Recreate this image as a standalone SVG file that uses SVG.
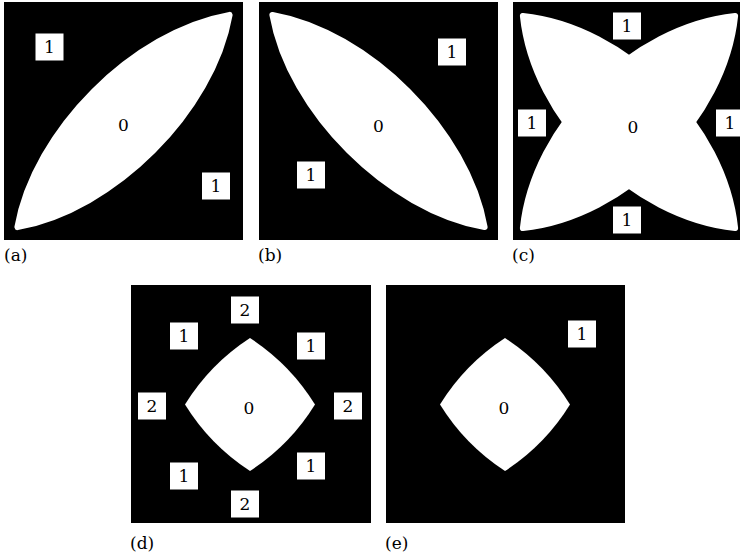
<svg xmlns="http://www.w3.org/2000/svg" width="740" height="558" viewBox="0 0 740 558">
<style>
.bg{fill:#000}
.lens{fill:#fff;stroke:#fff;stroke-width:6;stroke-linejoin:round}
.dia{fill:#fff}
.box{fill:#fff}
.t{font-family:"DejaVu Serif","Liberation Serif",serif;font-size:17px;fill:#000;text-anchor:middle}
.cap{font-family:"DejaVu Serif","Liberation Serif",serif;font-size:17px;fill:#000}
</style>
<rect width="740" height="558" fill="#fff"/>
<g id="panel-a">
<rect class="bg" x="4" y="2" width="239" height="238"/>
<path class="lens" d="M17.4,227.1 C34.4,130.9 133.4,31.9 229.6,14.9 C212.6,111.1 113.6,210.1 17.4,227.1 Z"/>
<text class="t" x="123.5" y="131">0</text>
<rect class="box" x="35.5" y="33.5" width="28" height="27"/><text class="t" x="49.5" y="53">1</text>
<rect class="box" x="202" y="172.5" width="28" height="27"/><text class="t" x="216" y="192">1</text>
<text class="cap" x="4" y="261">(a)</text>
</g>
<g id="panel-b">
<rect class="bg" x="259" y="2" width="239" height="238"/>
<path class="lens" d="M272.4,14.9 C368.6,31.9 467.6,130.9 484.6,227.1 C388.4,210.1 289.4,111.1 272.4,14.9 Z"/>
<text class="t" x="378.5" y="132">0</text>
<rect class="box" x="438" y="38.5" width="28" height="27"/><text class="t" x="452" y="58">1</text>
<rect class="box" x="297" y="161.5" width="28" height="27"/><text class="t" x="311" y="181">1</text>
<text class="cap" x="258" y="261">(b)</text>
</g>
<g id="panel-c">
<rect class="bg" x="513" y="2" width="240" height="238"/>
<path class="lens" d="M522.9,228.1 C533.5,125.5 632.5,26.5 735.1,15.9 C724.5,118.5 625.5,217.5 522.9,228.1 Z"/>
<path class="lens" d="M522.9,15.9 C625.5,26.5 724.5,125.5 735.1,228.1 C632.5,217.5 533.5,118.5 522.9,15.9 Z"/>
<text class="t" x="633" y="133">0</text>
<rect class="box" x="613" y="12.5" width="28" height="27"/><text class="t" x="627" y="32">1</text>
<rect class="box" x="518" y="109.5" width="28" height="27"/><text class="t" x="532" y="129">1</text>
<rect class="box" x="716" y="109.5" width="28" height="27"/><text class="t" x="730" y="129">1</text>
<rect class="box" x="613" y="206.5" width="28" height="27"/><text class="t" x="627" y="226">1</text>
<text class="cap" x="512" y="261">(c)</text>
</g>
<g id="panel-d">
<rect class="bg" x="131" y="285" width="240" height="238"/>
<path class="dia" d="M250,338 Q290,364 315,404.5 Q290,445 250,471 Q210,445 185,404.5 Q210,364 250,338 Z"/>
<text class="t" x="249" y="414">0</text>
<rect class="box" x="231" y="296.5" width="28" height="27"/><text class="t" x="245" y="316">2</text>
<rect class="box" x="170" y="322.5" width="28" height="27"/><text class="t" x="184" y="342">1</text>
<rect class="box" x="297" y="332.5" width="28" height="27"/><text class="t" x="311" y="352">1</text>
<rect class="box" x="138" y="392.5" width="28" height="27"/><text class="t" x="152" y="412">2</text>
<rect class="box" x="334" y="392.5" width="28" height="27"/><text class="t" x="348" y="412">2</text>
<rect class="box" x="170" y="462.5" width="28" height="27"/><text class="t" x="184" y="482">1</text>
<rect class="box" x="297" y="452.5" width="28" height="27"/><text class="t" x="311" y="472">1</text>
<rect class="box" x="231" y="490.5" width="28" height="27"/><text class="t" x="245" y="510">2</text>
<text class="cap" x="130" y="549">(d)</text>
</g>
<g id="panel-e">
<rect class="bg" x="386" y="285" width="239" height="238"/>
<path class="dia" d="M505,338 Q545,364 570,404.5 Q545,445 505,471 Q465,445 440,404.5 Q465,364 505,338 Z"/>
<text class="t" x="504" y="414">0</text>
<rect class="box" x="568" y="320.5" width="28" height="27"/><text class="t" x="582" y="340">1</text>
<text class="cap" x="385" y="549">(e)</text>
</g>
<g id="connectors"/>
</svg>
